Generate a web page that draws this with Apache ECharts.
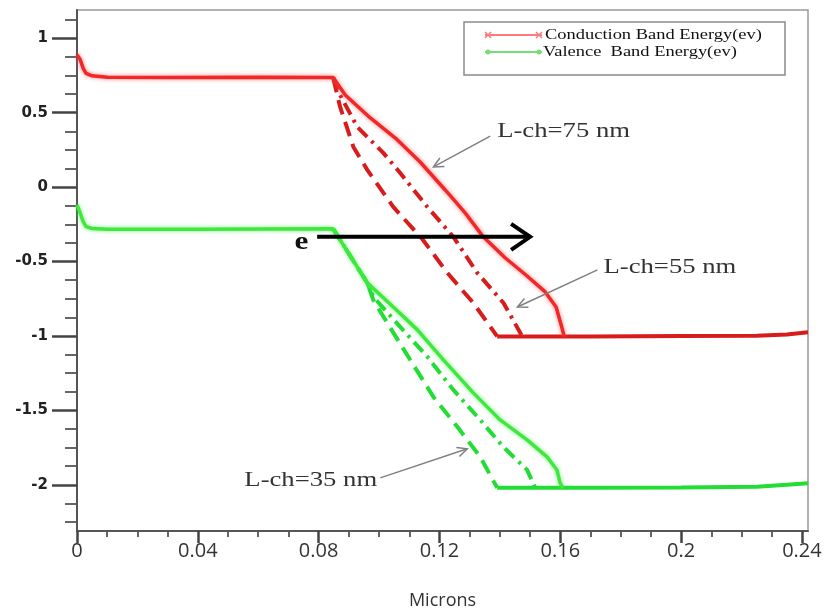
<!DOCTYPE html>
<html><head><meta charset="utf-8">
<script src="https://cdn.jsdelivr.net/npm/echarts@6/dist/echarts.min.js"></script>
<style>html,body{margin:0;padding:0;background:#fff}#c{width:828px;height:616px}</style>
</head><body><div id="c"></div>
<script>
// ---- axis ticks / labels ----
const xTickValues = [0, 0.04, 0.08, 0.12, 0.16, 0.2, 0.24];
const xMinorTicks = [0.01,0.02,0.03,0.05,0.06,0.07,0.09,0.1,0.11,0.13,0.14,0.15,0.17,0.18,0.19,0.21,0.22,0.23];
const yTickValues = [1, 0.5, 0, -0.5, -1, -1.5, -2];
const yMinorTicks = [1.125,0.875,0.75,0.625,0.375,0.25,0.125,-0.125,-0.25,-0.375,-0.625,-0.75,-0.875,-1.125,-1.25,-1.375,-1.625,-1.75,-1.875,-2.125,-2.25];

// ---- Conduction band (red) ----
const cb75 = [[0,0.89],[0.001,0.86],[0.002,0.8],[0.003,0.765],[0.005,0.748],[0.01,0.738],[0.03,0.737],[0.06,0.738],[0.0848,0.736],
  [0.0888,0.619],[0.0971,0.465],[0.1054,0.33],[0.1136,0.169],[0.1219,-0.019],[0.1285,-0.173],[0.1345,-0.334],
  [0.1418,-0.476],[0.149,-0.597],[0.155,-0.704],[0.1586,-0.805],[0.1603,-0.926],[0.1613,-1.003]];
const cb55 = [[0.0848,0.736],[0.0871,0.619],[0.0928,0.404],[0.1014,0.23],[0.107,0.095],[0.116,-0.133],[0.1246,-0.334],
  [0.1325,-0.576],[0.1412,-0.778],[0.1474,-1.003]];
const cb35 = [[0.0848,0.736],[0.0871,0.539],[0.0915,0.27],[0.0961,0.116],[0.1047,-0.133],[0.1143,-0.348],[0.1226,-0.576],
  [0.1312,-0.778],[0.1391,-1.003]];
const cbFloor = [[0.1391,-1.003],[0.17,-1.003],[0.2,-1.0],[0.225,-0.998],[0.235,-0.99],[0.242,-0.975]];

// ---- Valence band (green) ----
const vb75 = [[0,-0.12],[0.001,-0.17],[0.002,-0.23],[0.003,-0.265],[0.005,-0.278],[0.01,-0.283],[0.04,-0.283],[0.0848,-0.28],
  [0.0961,-0.643],[0.1047,-0.805],[0.1127,-0.959],[0.1213,-1.16],[0.1312,-1.382],[0.1401,-1.564],[0.149,-1.698],
  [0.1556,-1.812],[0.1589,-1.9],[0.1599,-1.987],[0.1609,-2.02]];
const vb55 = [[0.0848,-0.28],[0.0961,-0.643],[0.0981,-0.737],[0.107,-0.939],[0.116,-1.14],[0.1246,-1.362],[0.1335,-1.564],
  [0.1411,-1.745],[0.149,-1.899],[0.1517,-2.02]];
const vb35 = [[0.0848,-0.28],[0.0961,-0.643],[0.0981,-0.758],[0.1027,-0.912],[0.1103,-1.16],[0.118,-1.409],[0.1259,-1.61],
  [0.1335,-1.812],[0.1391,-2.02]];
const vbFloor = [[0.1391,-2.02],[0.17,-2.02],[0.2,-2.018],[0.225,-2.012],[0.235,-2.0],[0.242,-1.99]];

// ---- annotations (data coordinates) ----
const annTexts = [
  {text:'L-ch=75 nm', at:[0.1391, 0.371]},
  {text:'L-ch=55 nm', at:[0.1743, -0.543]},
  {text:'L-ch=35 nm', at:[0.0554, -1.973]}
];
const annArrows = [
  {from:[0.1368, 0.343], to:[0.118, 0.136]},
  {from:[0.1723, -0.556], to:[0.1458, -0.805]},
  {from:[0.1004, -1.953], to:[0.1292, -1.758]}
];
const electronArrow = {from:[0.0795, -0.334], to:[0.150, -0.334], label:'e', labelAt:[0.0743, -0.368]};

const RED = '#f22828', RED_D = '#d81c1c', GREEN = '#3fe83f', GREEN_D = '#22dd33';

const chart = echarts.init(document.getElementById('c'), null, {renderer:'canvas'});
const FONT_AX = 'Open Sans';
const GRID = {left:77, right:20, top:10, bottom:85, outerBoundsMode:'none', containLabel:false};
function lineSeries(name, data, color, width, type, z, haze) {
  return {
    name, type:'line', data, symbol:'none', animation:false, z,
    lineStyle: Object.assign({color, width, type, cap:'butt'},
      haze ? {shadowColor: haze, shadowBlur: 4} : {}),
    itemStyle:{color}
  };
}
chart.setOption({
  animation:false,
  backgroundColor:'#fff',
  grid:[
    Object.assign({show:true, borderColor:'#9a9a9a', borderWidth:1.5}, GRID),
    Object.assign({show:false}, GRID)
  ],
  xAxis:[{
    gridIndex:0, type:'value', min:0, max:0.242, position:'bottom',
    axisLine:{show:true, onZero:false, lineStyle:{color:'#555', width:2}},
    axisTick:{show:true, customValues:xTickValues, length:12, lineStyle:{color:'#444', width:2.5}},
    axisLabel:{customValues:xTickValues, margin:10, fontSize:20, color:'#333', fontFamily:FONT_AX},
    splitLine:{show:false},
    name:'Microns', nameLocation:'middle', nameGap:61,
    nameTextStyle:{fontSize:18, color:'#333', fontFamily:FONT_AX}
  },{
    gridIndex:1, type:'value', min:0, max:0.242, position:'bottom',
    axisLine:{show:false, onZero:false},
    axisLabel:{show:false}, splitLine:{show:false},
    axisTick:{show:true, customValues:xMinorTicks, length:6, lineStyle:{color:'#555', width:1.8}}
  }],
  yAxis:[{
    gridIndex:0, type:'value', min:-2.31, max:1.19, position:'left',
    axisLine:{show:true, onZero:false, lineStyle:{color:'#555', width:2}},
    axisTick:{show:true, customValues:yTickValues, length:25, lineStyle:{color:'#444', width:2.5}},
    axisLabel:{customValues:yTickValues, margin:29, fontSize:15, fontWeight:'bold', color:'#222', fontFamily:'DejaVu Sans'},
    splitLine:{show:false}
  },{
    gridIndex:0, type:'value', min:-2.31, max:1.19, position:'left', offset:0,
    axisLine:{show:false, onZero:false}, axisLabel:{show:false}, splitLine:{show:false},
    axisTick:{show:true, customValues:yMinorTicks, length:12, lineStyle:{color:'#555', width:1.8}}
  },{
    gridIndex:1, type:'value', min:-2.31, max:1.19, show:false
  }],
  series:[
    lineSeries('CB 35nm', cb35, RED_D, 4, [15,8], 2),
    lineSeries('CB 55nm', cb55, RED_D, 4, [13,6,3,6], 2),
    lineSeries('CB floor', cbFloor, RED_D, 4, 'solid', 2),
    lineSeries('VB 35nm', vb35, GREEN_D, 4, [15,8], 2),
    lineSeries('VB 55nm', vb55, GREEN_D, 4, [13,6,3,6], 2),
    lineSeries('VB floor', vbFloor, GREEN_D, 4, 'solid', 2),
    lineSeries('Conduction Band Energy(ev)', cb75, RED, 3.5, 'solid', 3, 'rgba(255,80,80,0.7)'),
    lineSeries('Valence  Band Energy(ev)', vb75, GREEN, 3.5, 'solid', 3, 'rgba(80,240,80,0.7)')
  ]
});

function px(p){ return chart.convertToPixel({gridIndex:0}, p); }
function arrowHead(tip, from, len, ang, style) {
  const a = Math.atan2(from[1]-tip[1], from[0]-tip[0]);
  const p1 = [tip[0]+len*Math.cos(a+ang), tip[1]+len*Math.sin(a+ang)];
  const p2 = [tip[0]+len*Math.cos(a-ang), tip[1]+len*Math.sin(a-ang)];
  return {type:'polyline', shape:{points:[p1, tip, p2]}, style, z:10};
}
const g = [];
const serif = 'Liberation Serif';
annTexts.forEach(t => {
  const p = px(t.at);
  g.push({type:'text', x:p[0], y:p[1], scaleX:1.27, z:10,
    style:{text:t.text, font:'21px "'+serif+'"', fill:'#333', verticalAlign:'middle', align:'left'}});
});
annArrows.forEach(a => {
  const f = px(a.from), t = px(a.to);
  const st = {stroke:'#808080', lineWidth:1.5, fill:null};
  g.push({type:'line', shape:{x1:f[0],y1:f[1],x2:t[0],y2:t[1]}, style:st, z:10});
  g.push(arrowHead(t, f, 11, 0.45, st));
});
{
  const f = px(electronArrow.from), t = px(electronArrow.to), l = px(electronArrow.labelAt);
  const st = {stroke:'#000', lineWidth:4, fill:null, lineJoin:'miter'};
  g.push({type:'line', shape:{x1:f[0],y1:f[1],x2:t[0]-2,y2:t[1]}, style:st, z:10});
  g.push(arrowHead(t, f, 23, 0.6, st));
  g.push({type:'text', x:l[0], y:l[1], scaleX:1.2, z:10,
    style:{text:electronArrow.label, font:'bold 26px "'+serif+'"', fill:'#111', align:'center', verticalAlign:'middle'}});
}
// legend box
const LX = 464, LY = 22;
g.push({type:'rect', shape:{x:LX, y:LY, width:321, height:53}, style:{fill:'#fff', stroke:'#8a8a8a', lineWidth:1.5}, z:20});
const legendItems = [
  {name:'Conduction Band Energy(ev)', color:'#ff7a7a', mark:'x', y:35, tx:545},
  {name:'Valence  Band Energy(ev)', color:'#74e074', mark:'o', y:52, tx:543}
];
legendItems.forEach(it => {
  g.push({type:'line', shape:{x1:485, y1:it.y, x2:542, y2:it.y}, style:{stroke:it.color, lineWidth:2}, z:21});
  [488, 539].forEach(cx => {
    if (it.mark === 'x') {
      g.push({type:'line', shape:{x1:cx-3,y1:it.y-3,x2:cx+3,y2:it.y+3}, style:{stroke:it.color, lineWidth:1.5}, z:21});
      g.push({type:'line', shape:{x1:cx-3,y1:it.y+3,x2:cx+3,y2:it.y-3}, style:{stroke:it.color, lineWidth:1.5}, z:21});
    } else {
      g.push({type:'circle', shape:{cx, cy:it.y, r:2.5}, style:{fill:it.color}, z:21});
    }
  });
  g.push({type:'text', x:it.tx, y:it.y, scaleX:1.23, z:21,
    style:{text:it.name, font:'15px "'+serif+'"', fill:'#111', verticalAlign:'middle', align:'left'}});
});
chart.setOption({graphic:{elements:g}});
</script></body></html>
